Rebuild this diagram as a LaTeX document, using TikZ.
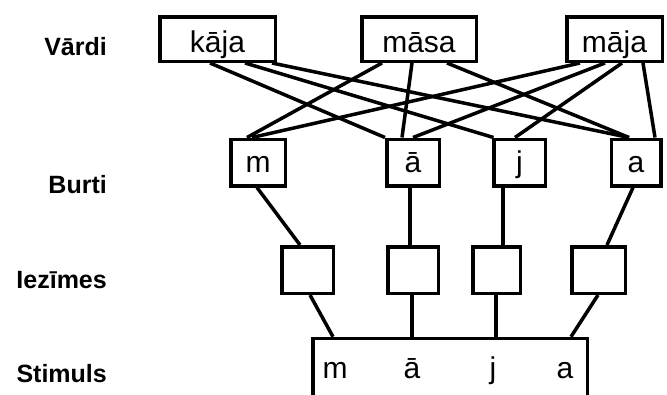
\documentclass[tikz,border=0pt]{standalone}
\usepackage{fontspec}
\setmainfont{Liberation Sans}
\begin{document}
\begin{tikzpicture}[x=1pt,y=-1pt,
  box/.style={draw,line width=3.5pt,inner sep=0pt,font=\fontsize{30}{30}\selectfont},
  word/.style={box,minimum height=44.5pt,text height=26pt,text depth=0pt},
  letter/.style={box,minimum height=46.5pt,text height=20pt,text depth=0pt},
  feat/.style={box,minimum height=46.5pt},
  link/.style={line width=3.5pt},
  lab/.style={anchor=base east,inner sep=0pt,font=\fontsize{25}{25}\selectfont\bfseries},
  stimtxt/.style={anchor=base,inner sep=0pt,font=\fontsize{30}{30}\selectfont}]
\clip (0,0) rectangle (667,394);
% labels
\node[lab] (lv) at (107,55) {Vārdi};
\node[lab] (lb) at (107,193) {Burti};
\node[lab] (li) at (107,288) {Iezīmes};
\node[lab] (ls) at (107,382) {Stimuls};
% words
\node[word,minimum width=115.5pt] (kaja) at (217.5,39) {kāja};
\node[word,minimum width=114.5pt] (masa) at (419,39) {māsa};
\node[word,minimum width=95.5pt] (maja) at (614.5,39) {māja};
% letters
\node[letter,minimum width=54.5pt] (lm) at (258,162.5) {m};
\node[letter,minimum width=52.5pt] (la) at (413,162.5) {ā};
\node[letter,minimum width=51.5pt] (lj) at (519.5,162.5) {j};
\node[letter,minimum width=49.5pt] (lA) at (636,162.5) {a};
% features
\node[feat,minimum width=51.5pt] (f1) at (307.5,270) {};
\node[feat,minimum width=50.5pt] (f2) at (413,270) {};
\node[feat,minimum width=47.5pt] (f3) at (496.5,270) {};
\node[feat,minimum width=53.5pt] (f4) at (598.5,270) {};
% stimulus
\node[box,minimum width=274.5pt,minimum height=80pt] (stim) at (450,378.5) {};
\node[stimtxt] (s1) at (335,378) {m};
\node[stimtxt] (s2) at (412,378) {ā};
\node[stimtxt] (s3) at (493,378) {j};
\node[stimtxt] (s4) at (565,378) {a};
% word -> letter
\draw[link] ([xshift=-7.5pt]kaja.south) -- ([xshift=-28pt]la.north);
\draw[link] ([xshift=27.5pt]kaja.south) -- ([xshift=-26pt]lj.north);
\draw[link] ([xshift=54.5pt]kaja.south) -- ([xshift=-7pt]lA.north);
\draw[link] ([xshift=-37pt]masa.south) -- ([xshift=-11pt]lm.north);
\draw[link] ([xshift=-7pt]masa.south) -- ([xshift=-11pt]la.north);
\draw[link] ([xshift=28pt]masa.south) -- ([xshift=-7pt]lA.north);
\draw[link] ([xshift=-34.5pt]maja.south) -- ([xshift=-6pt]lm.north);
\draw[link] ([xshift=-9.5pt]maja.south) -- ([xshift=0pt]la.north);
\draw[link] ([xshift=7.5pt]maja.south) -- ([xshift=-4.5pt]lj.north);
\draw[link] ([xshift=28.5pt]maja.south) -- ([xshift=19pt]lA.north);
% letter -> feature
\draw[link] ([xshift=-1pt]lm.south) -- ([xshift=-7.5pt]f1.north);
\draw[link] ([xshift=-3pt]la.south) -- ([xshift=-3pt]f2.north);
\draw[link] ([xshift=-16.5pt]lj.south) -- ([xshift=6.5pt]f3.north);
\draw[link] ([xshift=-3pt]lA.south) -- ([xshift=8.5pt]f4.north);
% feature -> stimulus
\draw[link] ([xshift=2.5pt]f1.south) -- ([xshift=-117pt]stim.north);
\draw[link] ([xshift=-1pt]f2.south) -- ([xshift=-38pt]stim.north);
\draw[link] ([xshift=-0.5pt]f3.south) -- ([xshift=46pt]stim.north);
\draw[link] ([xshift=-0.5pt]f4.south) -- ([xshift=121pt]stim.north);
\end{tikzpicture}
\end{document}
